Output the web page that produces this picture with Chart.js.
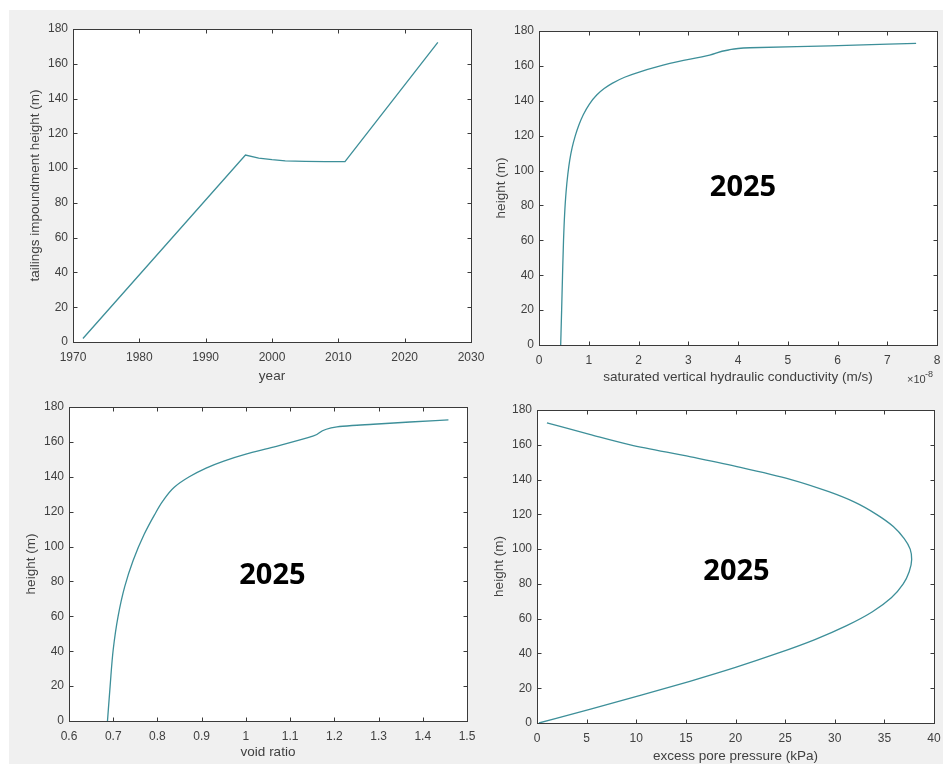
<!DOCTYPE html>
<html>
<head>
<meta charset="utf-8">
<script src="https://cdn.jsdelivr.net/npm/chart.js@4.4.1/dist/chart.umd.min.js"></script>
<style>
  body { margin: 0; background: #fff; }
  #fig { position: absolute; left: 9px; top: 10px; width: 934px; height: 754px; background: #f0f0f0; }
  canvas { position: absolute; }
</style>
</head>
<body>
<div id="fig"></div>
<canvas id="c1" width="490" height="390" style="left:0;top:0"></canvas>
<canvas id="c2" width="463" height="390" style="left:480px;top:0"></canvas>
<canvas id="c3" width="480" height="374" style="left:0;top:390px"></canvas>
<canvas id="c4" width="463" height="374" style="left:480px;top:390px"></canvas>
<script>
// top left: impoundment height over time
const years = [1971.5, 1996, 1998, 2000, 2002, 2005, 2008, 2011, 2025];
const damHeight = [2, 107.5, 105.8, 104.9, 104.2, 103.9, 103.7, 103.7, 172.3];

// top right: conductivity profile in 2025 (x in units of 1e-8 m/s)
const conductivity = [0.436, 0.455, 0.473, 0.493, 0.515, 0.545, 0.58, 0.618, 0.665, 0.73, 0.80, 0.89, 1.01, 1.16, 1.31, 1.47, 1.72, 2.03, 2.63, 3.43, 3.81, 4.24, 5.85, 7.58];
const condHeight = [0, 20, 40, 60, 75, 88, 98, 106, 113, 120, 126, 132, 138, 143.3, 147, 150, 153.5, 156.6, 161.4, 166.2, 169.1, 170.4, 171.5, 172.9];

// bottom left: void ratio profile
const voidRatio = [0.687, 0.693, 0.700, 0.711, 0.726, 0.745, 0.770, 0.793, 0.812, 0.838, 0.872, 0.910, 0.950, 1.000, 1.062, 1.153, 1.206, 1.24, 1.288, 1.371, 1.458];
const voidHeight = [0, 20, 41, 60, 77, 92, 107, 118, 126, 134, 140, 145, 149, 153, 157, 163.4, 168.6, 169.4, 170.1, 171.4, 172.6];

// bottom right: excess pore pressure profile
const porePressure = [0.2, 5.4, 10.5, 15.4, 20.0, 24.2, 28.0, 31.2, 33.8, 35.7, 36.9, 37.5, 37.75, 37.6, 37.0, 35.9, 34.2, 32.0, 29.4, 25.6, 20.5, 15.5, 9.4, 5.3, 1.0];
const poreHeight = [0, 8, 16, 24, 32, 40, 48, 56, 64, 72, 80, 87, 94, 100, 106, 113, 120, 127, 133, 140, 147, 153, 160, 166, 172.6];

// tick values
const yearTicks = [1970, 1980, 1990, 2000, 2010, 2020, 2030];
const condTicks = [0, 1, 2, 3, 4, 5, 6, 7, 8];
const voidTicks = [0.6, 0.7, 0.8, 0.9, 1.0, 1.1, 1.2, 1.3, 1.4, 1.5];
const poreTicks = [0, 5, 10, 15, 20, 25, 30, 35, 40];
const heightTicks = [0, 20, 40, 60, 80, 100, 120, 140, 160, 180];

const lineColor = '#3d8f99';
const tickFont = { family: '"Liberation Sans", Arial, sans-serif', size: 12 };
const titleFont = { family: '"Liberation Sans", Arial, sans-serif', size: 13.5 };
const textColor = '#404040';

// white plot box, inward ticks on all four sides, year note
const matlabAxes = {
  id: 'matlabAxes',
  beforeDraw(chart) {
    const { ctx, chartArea: a } = chart;
    ctx.save();
    ctx.fillStyle = '#fff';
    ctx.fillRect(a.left, a.top, a.right - a.left, a.bottom - a.top);
    ctx.restore();
  },
  afterDatasetsDraw(chart, args, opts) {
    const { ctx, chartArea: a, scales: { x, y } } = chart;
    const L = Math.round(a.left) + 0.5, R = Math.round(a.right) + 0.5;
    const T = Math.round(a.top) + 0.5, B = Math.round(a.bottom) + 0.5;
    ctx.save();
    ctx.strokeStyle = '#3a3a3a';
    ctx.lineWidth = 1;
    ctx.beginPath();
    x.ticks.forEach(t => {
      const px = Math.round(x.getPixelForValue(t.value)) + 0.5;
      ctx.moveTo(px, B); ctx.lineTo(px, B - 4);
      ctx.moveTo(px, T); ctx.lineTo(px, T + 4);
    });
    y.ticks.forEach(t => {
      const py = Math.round(y.getPixelForValue(t.value)) + 0.5;
      ctx.moveTo(L, py); ctx.lineTo(L + 4, py);
      ctx.moveTo(R, py); ctx.lineTo(R - 4, py);
    });
    ctx.stroke();
    ctx.strokeRect(L, T, R - L, B - T);

    if (opts.note) {
      ctx.font = 'bold 29px "Open Sans", sans-serif';
      ctx.fillStyle = '#000';
      ctx.textAlign = 'center';
      ctx.textBaseline = 'middle';
      ctx.fillText(opts.note.text, x.getPixelForValue(opts.note.x), y.getPixelForValue(opts.note.y));
    }
    if (opts.exponent) {
      ctx.fillStyle = textColor;
      ctx.textAlign = 'left';
      ctx.textBaseline = 'alphabetic';
      ctx.font = '11px "Liberation Sans", Arial, sans-serif';
      ctx.fillText('\u00d710', a.right - 30, a.bottom + 38);
      ctx.font = '9px "Liberation Sans", Arial, sans-serif';
      ctx.fillText('-8', a.right - 12, a.bottom + 32);
    }
    ctx.restore();
  }
};

function drawPanel(id, cfg) {
  // profiles are smoothed along the height axis
  const byHeight = !!cfg.smooth;
  new Chart(document.getElementById(id), {
    type: 'line',
    data: {
      datasets: [{
        data: cfg.xs.map((v, i) => ({ x: v, y: cfg.ys[i] })),
        borderColor: lineColor,
        borderWidth: 1.3,
        pointRadius: 0,
        fill: false,
        cubicInterpolationMode: byHeight ? 'monotone' : 'default',
        tension: 0
      }]
    },
    options: {
      indexAxis: byHeight ? 'y' : 'x',
      responsive: false,
      animation: false,
      layout: { padding: cfg.pad },
      plugins: {
        legend: { display: false },
        tooltip: { enabled: false },
        matlabAxes: { note: cfg.note, exponent: cfg.exponent }
      },
      scales: {
        x: {
          type: 'linear',
          min: cfg.xTicks[0],
          max: cfg.xTicks[cfg.xTicks.length - 1],
          afterBuildTicks: s => { s.ticks = cfg.xTicks.map(v => ({ value: v })); },
          afterFit: s => { s.height = cfg.xHeight; s.paddingLeft = 0; s.paddingRight = 0; },
          grid: { display: false, drawTicks: false },
          border: { display: false },
          ticks: {
            font: tickFont, color: textColor, padding: 8, maxRotation: 0, autoSkip: false,
            callback: v => String(Math.round(v * 10) / 10)
          },
          title: {
            display: true, text: cfg.xLabel, font: titleFont, color: textColor,
            padding: { top: 0, bottom: cfg.xTitlePad }
          }
        },
        y: {
          type: 'linear',
          min: 0,
          max: 180,
          afterBuildTicks: s => { s.ticks = heightTicks.map(v => ({ value: v })); },
          afterFit: s => { s.width = cfg.yWidth; s.paddingTop = 0; s.paddingBottom = 0; },
          grid: { display: false, drawTicks: false },
          border: { display: false },
          ticks: { font: tickFont, color: textColor, padding: 5, autoSkip: false },
          title: {
            display: true, text: cfg.yLabel, font: titleFont, color: textColor,
            padding: { top: cfg.yTitlePad, bottom: 0 }
          }
        }
      }
    },
    plugins: [matlabAxes]
  });
}

drawPanel('c1', {
  xs: years, ys: damHeight, xTicks: yearTicks,
  xLabel: 'year', yLabel: 'tailings impoundment height (m)',
  pad: { left: 0, top: 29, right: 19, bottom: 0 }, yWidth: 73, xHeight: 48,
  xTitlePad: 5.5, yTitlePad: 27
});

drawPanel('c2', {
  xs: conductivity, ys: condHeight, xTicks: condTicks, smooth: true,
  xLabel: 'saturated vertical hydraulic conductivity (m/s)', yLabel: 'height (m)',
  pad: { left: 0, top: 31, right: 6, bottom: 0 }, yWidth: 59, xHeight: 45,
  xTitlePad: 5, yTitlePad: 13.5,
  note: { text: '2025', x: 4.1, y: 90 }, exponent: true
});

drawPanel('c3', {
  xs: voidRatio, ys: voidHeight, xTicks: voidTicks, smooth: true,
  xLabel: 'void ratio', yLabel: 'height (m)',
  pad: { left: 0, top: 17, right: 13, bottom: 0 }, yWidth: 69, xHeight: 43,
  xTitlePad: 4, yTitlePad: 23.5,
  note: { text: '2025', x: 1.06, y: 83 }
});

drawPanel('c4', {
  xs: porePressure, ys: poreHeight, xTicks: poreTicks, smooth: true,
  xLabel: 'excess pore pressure (kPa)', yLabel: 'height (m)',
  pad: { left: 0, top: 20, right: 9, bottom: 0 }, yWidth: 57, xHeight: 41,
  xTitlePad: 0, yTitlePad: 11,
  note: { text: '2025', x: 20.1, y: 87 }
});
</script>
</body>
</html>
